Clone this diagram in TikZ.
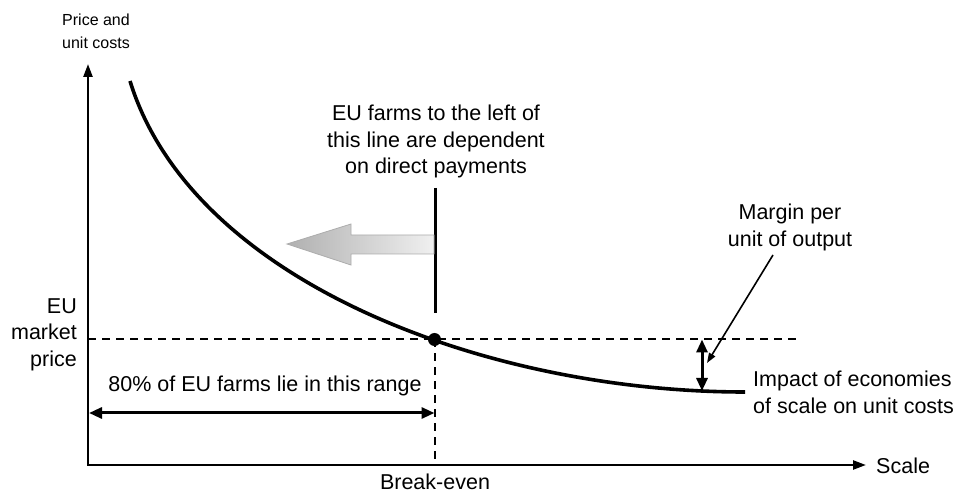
\documentclass[tikz,border=0pt]{standalone}
\usepackage{fontspec}
\setmainfont{Liberation Sans}
\usetikzlibrary{arrows.meta}
\begin{document}
\begin{tikzpicture}[x=1pt,y=-1pt,
  lbl/.style={inner sep=0pt,font=\fontsize{21.5}{26.5}\selectfont},
  small/.style={inner sep=0pt,font=\fontsize{16}{23}\selectfont},
  axis/.style={line width=2.4pt,-{Triangle[length=13pt,width=9pt]}},
  dbl/.style={line width=3pt,{Triangle[length=13pt,width=11pt]}-{Triangle[length=13pt,width=11pt]}},
  dashline/.style={line width=2pt,dash pattern=on 8pt off 6pt}]
\useasboundingbox (0,0) rectangle (962,494);
% coordinates
\coordinate (O) at (88,465);
\coordinate (ytip) at (88,64);
\coordinate (xtip) at (866,465);
\coordinate (cs) at (130,81);
\coordinate (ce) at (745,392);
\coordinate (be) at (434.5,339.5);
\coordinate (pl) at (88,339.5);
\coordinate (pr) at (798,339.5);
\coordinate (beaxis) at (434.5,465);
\coordinate (vtop) at (435,188);
\coordinate (vbot) at (435,313);
\coordinate (rl) at (89,413);
\coordinate (rr) at (434.5,413);
\coordinate (mt) at (702,339.5);
\coordinate (mb) at (702,391);
\coordinate (ms) at (773,255);
\coordinate (me) at (707,363);
% dashed guides
\draw[dashline] (pl) -- (pr);
\draw[dashline] (be) -- (beaxis);
% axes
\draw[line width=2.4pt] (88,72) -- (O) -- (96,465);
\draw[axis] (O) -- (ytip);
\draw[axis] (O) -- (xtip);
% curve
\draw[line width=3.6pt] (cs) .. controls (192,282) and (487,392) .. (ce);
% break-even dot
\fill (be) circle (6.5pt);
% vertical solid line
\draw[line width=3pt] (vtop) -- (vbot);
% gray arrow
\shade[left color=gray!62,right color=gray!12,draw=gray!65,line width=0.8pt]
  (287,244) -- (351,224) -- (351,235) -- (434,235) -- (434,254) -- (351,254) -- (351,265) -- cycle;
% range arrow
\draw[dbl] (rl) -- (rr);
% margin arrow
\draw[dbl] (mt) -- (mb);
\draw[line width=1.6pt,-{Triangle[length=10pt,width=7pt]}] (ms) -- (me);
% labels
\node[small,align=left,anchor=west] (ylab) at (62,31.5) {Price and\\unit costs};
\node[lbl,anchor=west] (xlab) at (876,466) {Scale};
\node[lbl] (belab) at (435,482) {Break-even};
\node[lbl,align=center] (dep) at (436,141.5) {EU farms to the left of\\this line are dependent\\on direct payments};
\node[lbl,align=right,anchor=east] (mkt) at (77,334.5) {EU\\market\\price};
\node[lbl] (rng) at (265,386) {80\% of EU farms lie in this range};
\node[lbl,align=center] (marg) at (790,227.5) {Margin per\\unit of output};
\node[lbl,align=left,anchor=west] (imp) at (753,392.5) {Impact of economies\\of scale on unit costs};
\end{tikzpicture}
\end{document}
